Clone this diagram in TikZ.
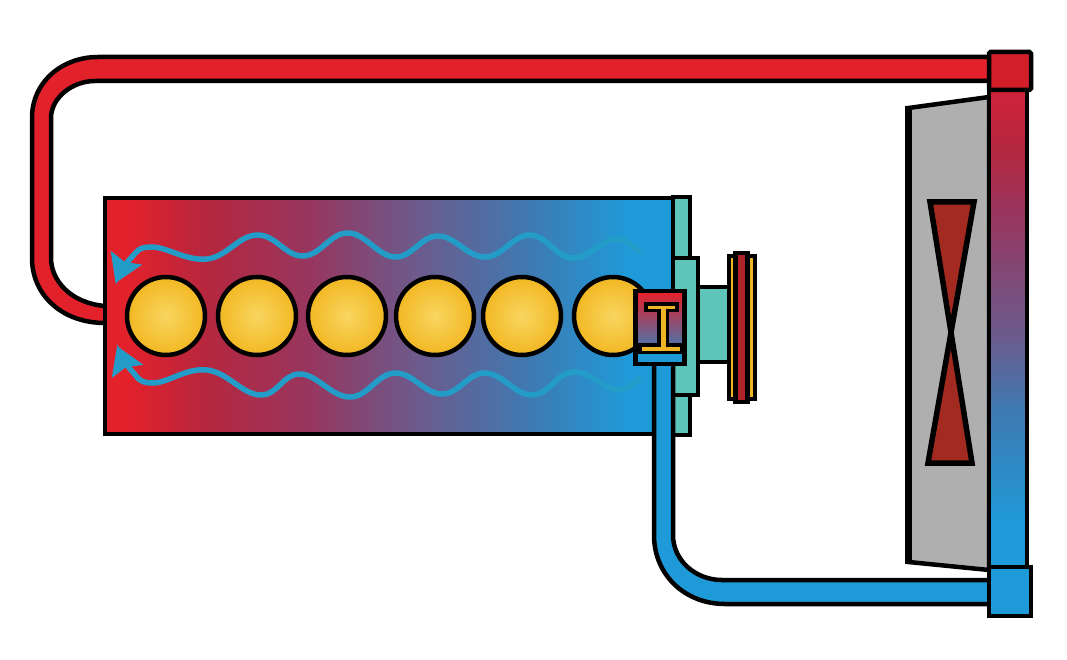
\documentclass[tikz,border=0pt]{standalone}
\definecolor{hotred}{HTML}{E3212B}
\definecolor{warmone}{HTML}{B5273F}
\definecolor{warmtwo}{HTML}{98365F}
\definecolor{midmix}{HTML}{7A4E7C}
\definecolor{coolone}{HTML}{6A5C8E}
\definecolor{cooltwo}{HTML}{4078B0}
\definecolor{coldblue}{HTML}{1F9AD8}
\definecolor{wavecol}{HTML}{239CC8}
\definecolor{tealpart}{HTML}{5FC4BA}
\definecolor{goldpart}{HTML}{EDB426}
\definecolor{goldin}{HTML}{F8D660}
\definecolor{goldout}{HTML}{F2B722}
\definecolor{wheelred}{HTML}{B0222A}
\definecolor{fanred}{HTML}{A32A20}
\definecolor{shroud}{HTML}{AFAFAF}
\definecolor{tubetop}{HTML}{D0223A}
\usetikzlibrary{arrows.meta}
\pgfdeclarehorizontalshading{blockfade}{100bp}{color(0bp)=(hotred); color(25bp)=(hotred);
  color(27bp)=(hotred); color(34bp)=(warmone); color(43bp)=(warmtwo); color(49bp)=(midmix);
  color(53bp)=(coolone); color(62bp)=(cooltwo); color(71bp)=(coldblue); color(100bp)=(coldblue)}
\pgfdeclareverticalshading{tubefade}{100bp}{color(0bp)=(coldblue); color(25bp)=(coldblue);
  color(30bp)=(coldblue); color(42bp)=(cooltwo); color(49bp)=(coolone); color(54bp)=(midmix);
  color(62bp)=(warmtwo); color(69bp)=(warmone); color(75bp)=(tubetop); color(100bp)=(tubetop)}

\begin{document}
\begin{tikzpicture}[
  x=1pt, y=-1pt,
  outline/.style={draw=black, line width=4.5pt, line join=miter},
  cyl/.style={circle, outline, minimum size=78pt, inner sep=0pt,
              shading=radial, inner color=goldin, outer color=goldout},
  wave/.style={wavecol, line width=5.5pt, -{Stealth[length=27pt,width=33pt,inset=4pt]}},
  teal box/.style={outline, fill=tealpart},
]
  \useasboundingbox (0,0) rectangle (1067,660);
  \fill[white] (0,0) rectangle (1067,660);

  % hot pipe
  \fill[hotred] (105,323) .. controls (62,323) and (32,295) .. (32,258) -- (32,118)
    .. controls (32,82) and (62,57) .. (98,57) -- (990,57) -- (990,81) -- (95,81)
    .. controls (72,81) and (51,98) .. (51,118) -- (51,258)
    .. controls (51,280) and (70,303) .. (105,306) -- cycle;
  \draw[outline] (105,323) .. controls (62,323) and (32,295) .. (32,258) -- (32,118)
    .. controls (32,82) and (62,57) .. (98,57) -- (990,57);
  \draw[outline] (990,81) -- (95,81) .. controls (72,81) and (51,98) .. (51,118) -- (51,258)
    .. controls (51,280) and (70,303) .. (105,306);

  % block
  \draw[teal box] (673,197) rectangle (690,435);
  \draw[teal box] (673,258) rectangle (698,395);
  \draw[teal box] (698,287) rectangle (729,362);
  \path[outline, shading=blockfade] (105,198) rectangle (673,434);

  \foreach \n/\xc in {1/166, 2/257, 3/347, 4/435, 5/522, 6/613}
    \node[cyl] (cyl\n) at (\xc,316) {};

  \draw[wave] plot[smooth, tension=.7] coordinates {(640,253) (615,239) (572,258) (530,235)
    (485,257) (438,236) (395,257) (348,233) (303,256) (257,235) (207,259) (152,247)
    (130,259) (115.5,283)};
  \draw[wave] plot[smooth, tension=.7] coordinates {(640,377) (617,390) (573,372) (532,395)
    (485,373) (442,394) (395,373) (350,397) (300,374) (260,395) (207,370) (153,383)
    (131,370) (117,346)};

  % cold pipe
  \fill[coldblue] (654,364) -- (654,535) .. controls (654,575) and (685,604) .. (725,604)
    -- (990,604) -- (990,580) -- (722,580) .. controls (695,580) and (673,560) .. (673,535)
    -- (673,364) -- cycle;
  \draw[outline] (654,364) -- (654,535) .. controls (654,575) and (685,604) .. (725,604) -- (990,604);
  \draw[outline] (990,580) -- (722,580) .. controls (695,580) and (673,560) .. (673,535) -- (673,364);

  % thermostat
  \fill[coldblue] (635.5,291) rectangle (684.5,364);
  \shade[top color=hotred, bottom color=coolone!70!coldblue] (635.5,293) rectangle (684.5,343);
  \fill[black] (635.5,343) rectangle (684.5,354);
  \fill[black] (644,302) rectangle (679,312);
  \fill[black] (657,312) rectangle (669,343);
  \fill[goldpart] (648,306) rectangle (675,309);
  \fill[goldpart] (660.5,306) rectangle (665.5,351);
  \fill[goldpart] (642,347) rectangle (680,351);
  \draw[outline] (635.5,291) rectangle (684.5,364);

  % flywheel
  \draw[outline, fill=goldpart] (729,256) rectangle (755,399);
  \draw[outline, fill=wheelred] (735.5,253) rectangle (747.5,402);

  % radiator
  \draw[outline, fill=shroud] (908.5,108) -- (989,97) -- (989,570) -- (908.5,562) -- cycle;
  \draw[black, line width=7pt] (908.5,106) -- (908.5,564);
  \draw[fill=fanred, line width=5.5pt, line join=miter] (930,202) -- (974,202) -- (928,463) -- (972,463) -- cycle;
  \path[outline, shading=tubefade] (989,90) rectangle (1027,570);
  \draw[outline, fill=hotred!92!black, rounded corners=1.5pt] (989,52) rectangle (1031,90);
  \draw[outline, fill=coldblue] (989,567) rectangle (1031,616);
\end{tikzpicture}
\end{document}
